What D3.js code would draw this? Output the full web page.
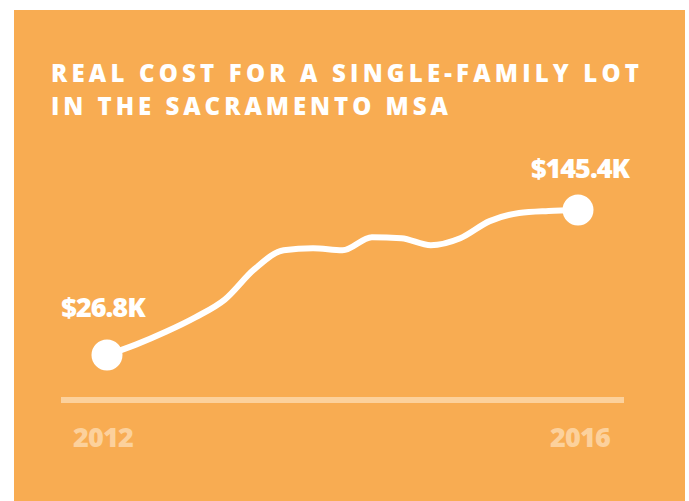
<!DOCTYPE html>
<html>
<head>
<meta charset="utf-8">
<script src="https://cdn.jsdelivr.net/npm/d3@7"></script>
<style>
  html, body { margin: 0; padding: 0; background: #ffffff; }
  svg { display: block; }
</style>
</head>
<body>
<svg id="chart" width="689" height="501"></svg>
<script>
// Quarterly real cost of a single-family lot, thousands of dollars
const quarters = ["2012 Q1","2012 Q2","2012 Q3","2012 Q4","2013 Q1","2013 Q2","2013 Q3","2013 Q4",
                  "2014 Q1","2014 Q2","2014 Q3","2014 Q4","2015 Q1","2015 Q2","2015 Q3","2015 Q4","2016 Q1"];
const lotCost = [26.8, 35.5, 45.8, 57.6, 72.1, 96.8, 112.5, 114.1,
                 112.5, 123.2, 122.3, 116.6, 122.3, 136.3, 142.9, 144.6, 145.4];
const yearTicks = [2012, 2016];
const titleLines = ["REAL COST FOR A SINGLE-FAMILY LOT", "IN THE SACRAMENTO MSA"];

const svg = d3.select("#chart");

// Panel
svg.append("rect").attr("x", 14).attr("y", 10).attr("width", 671).attr("height", 491)
  .attr("fill", "#F8AC52");

// Title
const titleWidths = [588, 397];
svg.append("g").selectAll("text").data(titleLines).join("text")
  .attr("x", 51)
  .attr("y", (d, i) => 82 + i * 33)
  .attr("textLength", (d, i) => titleWidths[i])
  .attr("lengthAdjust", "spacing")
  .attr("fill", "#ffffff")
  .attr("font-family", "'Open Sans', sans-serif")
  .attr("font-weight", 800)
  .attr("font-size", 24)
  .text(d => d);

// Scales
const x = d3.scaleLinear().domain([0, quarters.length - 1]).range([107, 578]);
const y = d3.scaleLinear().domain([26.8, 145.4]).range([355, 210]);
const xYear = d3.scaleLinear().domain([2012, 2016]).range([103, 580]);

// Baseline
svg.append("line")
  .attr("x1", 61).attr("x2", 624).attr("y1", 400).attr("y2", 400)
  .attr("stroke", "#FCD19C").attr("stroke-width", 6);

// Year labels
svg.append("g").selectAll("text").data(yearTicks).join("text")
  .attr("x", d => xYear(d))
  .attr("y", 447)
  .attr("text-anchor", "middle")
  .attr("fill", "#FCD19C")
  .attr("font-family", "'Open Sans', sans-serif")
  .attr("font-weight", 800)
  .attr("font-size", 27)
  .attr("letter-spacing", -0.8)
  .text(d => d);

// Cost line
const line = d3.line()
  .x((d, i) => x(i))
  .y(d => y(d))
  .curve(d3.curveMonotoneX);

svg.append("path").datum(lotCost)
  .attr("d", line)
  .attr("fill", "none")
  .attr("stroke", "#ffffff")
  .attr("stroke-width", 6)
  .attr("stroke-linecap", "round")
  .attr("stroke-linejoin", "round");

// Endpoints with value labels
const ends = [0, lotCost.length - 1];
svg.append("g").selectAll("circle").data(ends).join("circle")
  .attr("cx", i => x(i))
  .attr("cy", i => y(lotCost[i]))
  .attr("r", 15.5)
  .attr("fill", "#ffffff");

const fmt = v => "$" + d3.format(".1f")(v) + "K";
const labelDx = [-4, 2];
const labelDy = [-38, -32];
svg.append("g").selectAll("text").data(ends).join("text")
  .attr("x", (i, k) => x(i) + labelDx[k])
  .attr("y", (i, k) => y(lotCost[i]) + labelDy[k])
  .attr("text-anchor", "middle")
  .attr("fill", "#ffffff")
  .attr("font-family", "'Open Sans', sans-serif")
  .attr("font-weight", 800)
  .attr("font-size", 27)
  .attr("letter-spacing", -1)
  .text(i => fmt(lotCost[i]));
</script>
</body>
</html>
